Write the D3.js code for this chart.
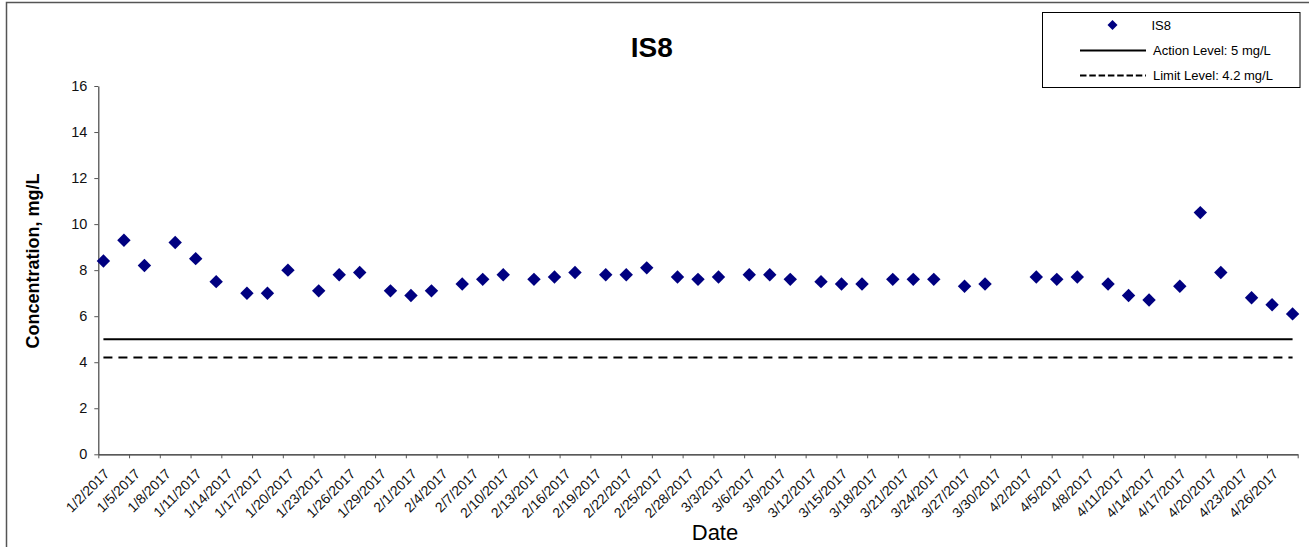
<!DOCTYPE html>
<html>
<head>
<meta charset="utf-8">
<script src="https://cdn.jsdelivr.net/npm/d3@7"></script>
<style>
  body { margin: 0; background: #fff; }
  svg { display: block; font-family: Arial, "Liberation Sans", sans-serif; }
</style>
</head>
<body>
<script>
// sample dates (taken around midday) and IS8 readings, mg/L
var sampleDates = [
	"1/2/2017", "1/4/2017", "1/6/2017", "1/9/2017", "1/11/2017", "1/13/2017", "1/16/2017", "1/18/2017",
	"1/20/2017", "1/23/2017", "1/25/2017", "1/27/2017", "1/30/2017", "2/1/2017", "2/3/2017", "2/6/2017",
	"2/8/2017", "2/10/2017", "2/13/2017", "2/15/2017", "2/17/2017", "2/20/2017", "2/22/2017", "2/24/2017",
	"2/27/2017", "3/1/2017", "3/3/2017", "3/6/2017", "3/8/2017", "3/10/2017", "3/13/2017", "3/15/2017",
	"3/17/2017", "3/20/2017", "3/22/2017", "3/24/2017", "3/27/2017", "3/29/2017", "4/3/2017", "4/5/2017",
	"4/7/2017", "4/10/2017", "4/12/2017", "4/14/2017", "4/17/2017", "4/19/2017", "4/21/2017", "4/24/2017",
	"4/26/2017", "4/28/2017"
];
var is8Values = [
	8.4, 9.3, 8.2, 9.2, 8.5, 7.5, 7.0, 7.0,
	8.0, 7.1, 7.8, 7.9, 7.1, 6.9, 7.1, 7.4,
	7.6, 7.8, 7.6, 7.7, 7.9, 7.8, 7.8, 8.1,
	7.7, 7.6, 7.7, 7.8, 7.8, 7.6, 7.5, 7.4,
	7.4, 7.6, 7.6, 7.6, 7.3, 7.4, 7.7, 7.6,
	7.7, 7.4, 6.9, 6.7, 7.3, 10.5, 7.9, 6.8,
	6.5, 6.1
];
var actionLevel = 5;
var limitLevel = 4.2;

var xStart = "1/2/2017", xEnd = "4/29/2017";
var yTicks = [0, 2, 4, 6, 8, 10, 12, 14, 16];
var legendLabels = ["IS8", "Action Level: 5 mg/L", "Limit Level: 4.2 mg/L"];

var width = 1309, height = 547;
var plot = {left: 98.3, right: 1297.7, top: 86, bottom: 454.3};
var navy = "#000080";

var parseDay = d3.timeParse("%m/%d/%Y");
var fmt = d3.timeFormat("%-m/%-d/%Y");

var points = sampleDates.map(function(d, i){
	return {date: d3.timeHour.offset(parseDay(d), 12), value: is8Values[i]};
});

var svg = d3.select("body").append("svg")
	.attr("width", width)
	.attr("height", height);

// outer chart frame (runs off the right and bottom of the picture)
svg.append("rect")
	.attr("x", 6.5).attr("y", 2.5)
	.attr("width", 1400).attr("height", 700)
	.attr("fill", "none")
	.attr("stroke", "#555")
	.attr("stroke-width", 1.5);

var x = d3.scaleTime()
	.domain([parseDay(xStart), parseDay(xEnd)])
	.range([plot.left, plot.right]);

var y = d3.scaleLinear()
	.domain([0, 16])
	.range([plot.bottom, plot.top]);

// x ticks every 3 days, last one has no label
var tickDates = d3.timeDay.range(parseDay(xStart), d3.timeDay.offset(parseDay(xEnd), 1), 3);
var lastTick = tickDates[tickDates.length - 1];

var xAxis = svg.append("g")
	.attr("transform", "translate(0," + plot.bottom + ")")
	.call(d3.axisBottom(x)
		.tickValues(tickDates)
		.tickSize(4)
		.tickSizeOuter(0)
		.tickFormat(function(d){ return +d === +lastTick ? "" : fmt(d); }));

xAxis.select(".domain").attr("stroke", "#222").attr("stroke-width", 1.2);
xAxis.selectAll(".tick line").attr("stroke", "#555");
xAxis.selectAll(".tick text")
	.attr("x", 0).attr("y", 0)
	.attr("dy", "0.35em")
	.attr("text-anchor", "end")
	.attr("transform", "translate(8,17) rotate(-45)")
	.attr("font-size", 14)
	.attr("font-family", null)
	.attr("fill", "#111");

var yAxis = svg.append("g")
	.attr("transform", "translate(" + plot.left + ",0)")
	.call(d3.axisLeft(y)
		.tickValues(yTicks)
		.tickSize(4)
		.tickSizeOuter(0)
		.tickPadding(7));

yAxis.select(".domain").attr("stroke", "#444").attr("stroke-width", 1.2);
yAxis.selectAll(".tick line").attr("stroke", "#555");
yAxis.selectAll(".tick text")
	.attr("font-size", 14.5)
	.attr("font-family", null)
	.attr("fill", "#111");

// action & limit lines span first to last sample
var first = points[0].date, last = points[points.length - 1].date;

svg.append("line")
	.attr("x1", x(first)).attr("x2", x(last))
	.attr("y1", y(actionLevel)).attr("y2", y(actionLevel))
	.attr("stroke", "#000").attr("stroke-width", 2);

svg.append("line")
	.attr("x1", x(first)).attr("x2", x(last))
	.attr("y1", y(limitLevel)).attr("y2", y(limitLevel))
	.attr("stroke", "#000").attr("stroke-width", 2)
	.attr("stroke-dasharray", "9,6");

var diamond = function(size){
	return d3.symbol().type(d3.symbolSquare).size(size)();
};

svg.append("g").selectAll("path")
	.data(points)
	.enter()
	.append("path")
	.attr("d", diamond(90))
	.attr("transform", function(d){ return "translate(" + x(d.date) + "," + y(d.value) + ") rotate(45)"; })
	.attr("fill", navy);

// titles
svg.append("text")
	.attr("x", 651.7).attr("y", 56.5)
	.attr("text-anchor", "middle")
	.attr("font-size", 28)
	.attr("font-weight", "bold")
	.text("IS8");

svg.append("text")
	.attr("transform", "translate(39,261) rotate(-90)")
	.attr("text-anchor", "middle")
	.attr("font-size", 18)
	.attr("font-weight", "bold")
	.text("Concentration, mg/L");

svg.append("text")
	.attr("x", 715).attr("y", 540)
	.attr("text-anchor", "middle")
	.attr("font-size", 22)
	.text("Date");

// legend
var legend = svg.append("g");
legend.append("rect")
	.attr("x", 1042.5).attr("y", 12.5)
	.attr("width", 257.5).attr("height", 75)
	.attr("fill", "#fff")
	.attr("stroke", "#000")
	.attr("stroke-width", 1);

var rowY = [25, 50.5, 75.5];

legend.append("path")
	.attr("d", diamond(50))
	.attr("transform", "translate(1112.5," + rowY[0] + ") rotate(45)")
	.attr("fill", navy);

legend.append("line")
	.attr("x1", 1080).attr("x2", 1146)
	.attr("y1", rowY[1]).attr("y2", rowY[1])
	.attr("stroke", "#000").attr("stroke-width", 2);

legend.append("line")
	.attr("x1", 1080).attr("x2", 1146)
	.attr("y1", rowY[2]).attr("y2", rowY[2])
	.attr("stroke", "#000").attr("stroke-width", 2)
	.attr("stroke-dasharray", "6.5,2.8");

legend.selectAll("text.lbl")
	.data(legendLabels)
	.enter()
	.append("text")
	.attr("class", "lbl")
	.attr("x", function(d, i){ return i === 0 ? 1151.5 : 1153; })
	.attr("y", function(d, i){ return rowY[i]; })
	.attr("dy", "0.35em")
	.attr("font-size", 13)
	.text(function(d){ return d; });
</script>
</body>
</html>
